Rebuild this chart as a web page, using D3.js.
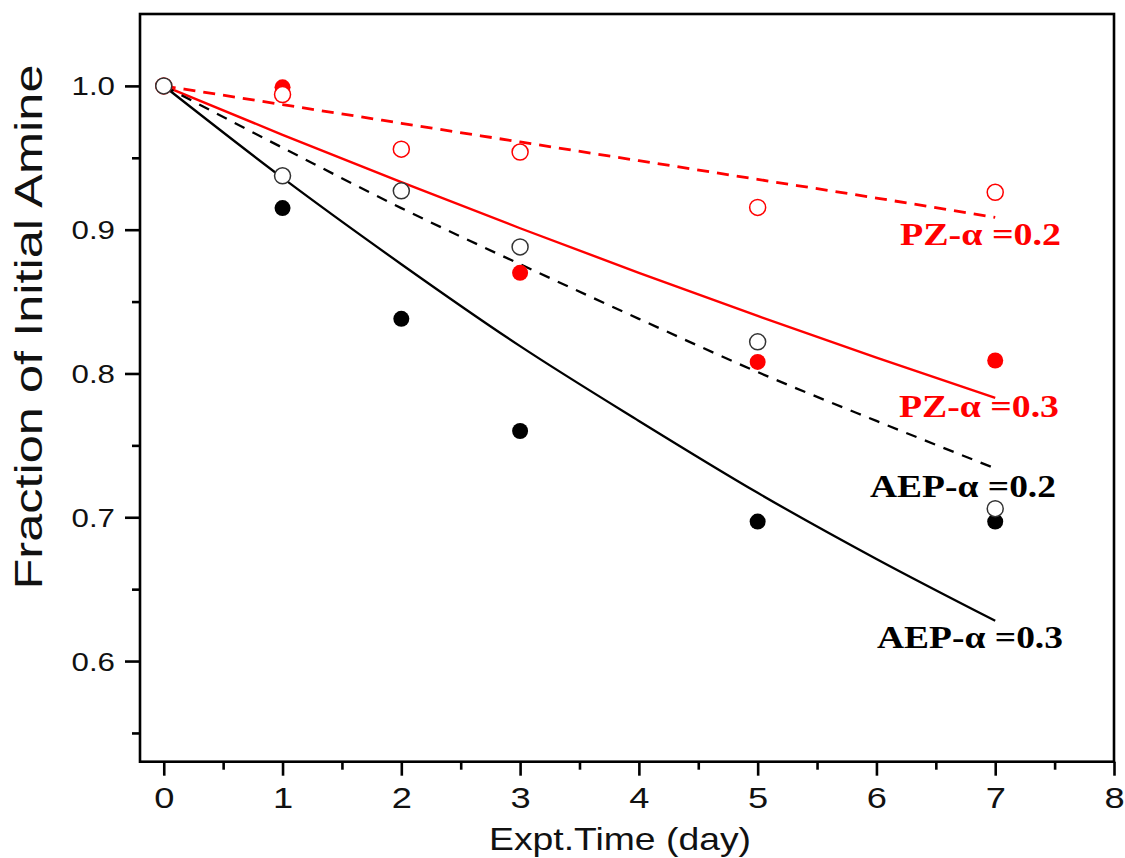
<!DOCTYPE html>
<html>
<head>
<meta charset="utf-8">
<script src="https://cdn.jsdelivr.net/npm/d3@7"></script>
<style>
  html, body { margin: 0; padding: 0; background: #fff; }
  svg { display: block; }
</style>
</head>
<body>
<svg id="chart" width="1125" height="858"></svg>
<script>
// ---- Data ----
const measDaysAll = [0, 1, 2, 3, 5, 7];
const measDaysPZ03 = [0, 1, 3, 5, 7];

const aep03Measured = [1.000, 0.915, 0.838, 0.760, 0.697, 0.697];   // filled black
const aep02Measured = [1.000, 0.9375, 0.927, 0.888, 0.822, 0.706]; // open black
const pz03Measured  = [1.000, 0.999, 0.870, 0.808, 0.809];          // filled red
const pz02Measured  = [1.000, 0.994, 0.956, 0.954, 0.9155, 0.926]; // open red

const fitDays = [0, 1, 2, 3, 4, 5, 6, 7];
const pz02Fit  = [1.000, 0.987, 0.974, 0.961, 0.948, 0.935, 0.922, 0.9085];
const pz03Fit  = [1.000, 0.966, 0.933, 0.901, 0.870, 0.840, 0.811, 0.783];
const aep02Fit = [1.000, 0.957, 0.915, 0.876, 0.838, 0.801, 0.767, 0.734];
const aep03Fit = [1.000, 0.936, 0.876, 0.819, 0.767, 0.717, 0.671, 0.628];

const xTicks = [0, 1, 2, 3, 4, 5, 6, 7, 8];
const yTicks = [0.6, 0.7, 0.8, 0.9, 1.0];
const xMinorTicks = [0.5, 1.5, 2.5, 3.5, 4.5, 5.5, 6.5, 7.5];
const yMinorTicks = [0.55, 0.65, 0.75, 0.85, 0.95];

const labels = [
  { text: "PZ-\u03b1 =0.2",  color: "#ff0000" },
  { text: "PZ-\u03b1 =0.3",  color: "#ff0000" },
  { text: "AEP-\u03b1 =0.2", color: "#000000" },
  { text: "AEP-\u03b1 =0.3", color: "#000000" }
];

// ---- Layout ----
const L = 140, R = 1114, T = 14, B = 761.7;
const STRETCH = 1.25;
const svg = d3.select("#chart");

const x = d3.scaleLinear().domain([-0.2, 8]).range([L, R]);
const y = d3.scaleLinear().domain([0.53, 1.05]).range([B, T]);

function stretch(sel, k) {
  sel.each(function () {
    const len = this.getComputedTextLength();
    d3.select(this).attr("textLength", len * k).attr("lengthAdjust", "spacingAndGlyphs");
  });
}

// ---- Fit lines ----
const line = d3.line().x(d => x(d[0])).y(d => y(d[1])).curve(d3.curveMonotoneX);
const fits = [
  { vals: pz02Fit,  color: "#ff0000", dash: "12,8", w: 2.8 },
  { vals: pz03Fit,  color: "#ff0000", dash: null,   w: 2.4 },
  { vals: aep02Fit, color: "#000000", dash: "11,9", w: 2.3 },
  { vals: aep03Fit, color: "#000000", dash: null,   w: 2.3 }
];
fits.forEach(f => {
  svg.append("path")
    .datum(fitDays.map((d, i) => [d, f.vals[i]]))
    .attr("d", line)
    .attr("fill", "none")
    .attr("stroke", f.color)
    .attr("stroke-width", f.w)
    .attr("stroke-dasharray", f.dash);
});

// ---- Markers ----
const R0 = 8;
function markers(days, vals, fill, stroke, sw) {
  svg.append("g").selectAll("circle")
    .data(days.map((d, i) => [d, vals[i]]))
    .join("circle")
    .attr("cx", d => x(d[0]))
    .attr("cy", d => y(d[1]))
    .attr("r", R0)
    .attr("fill", fill)
    .attr("stroke", stroke)
    .attr("stroke-width", sw);
}
markers(measDaysPZ03, pz03Measured, "#ff0000", "none", 0);
markers(measDaysAll, aep03Measured, "#000000", "none", 0);
markers(measDaysAll, pz02Measured, "#ffffff", "#ff0000", 1.5);
markers(measDaysAll, aep02Measured, "#ffffff", "#333333", 1.5);

// ---- Frame ----
svg.append("rect")
  .attr("x", L).attr("y", T)
  .attr("width", R - L).attr("height", B - T)
  .attr("fill", "none").attr("stroke", "#000").attr("stroke-width", 2.6);

// ---- Axes ----
const xAxis = svg.append("g").attr("transform", `translate(0,${B})`)
  .call(d3.axisBottom(x).tickValues(xTicks).tickSize(14).tickPadding(18).tickFormat(d3.format("d")));
const xMinor = svg.append("g").attr("transform", `translate(0,${B})`)
  .call(d3.axisBottom(x).tickValues(xMinorTicks).tickSize(8).tickFormat(""));
const yAxis = svg.append("g").attr("transform", `translate(${L},0)`)
  .call(d3.axisLeft(y).tickValues(yTicks).tickSize(15).tickPadding(10).tickFormat(d3.format(".1f")));
const yMinor = svg.append("g").attr("transform", `translate(${L},0)`)
  .call(d3.axisLeft(y).tickValues(yMinorTicks).tickSize(8).tickFormat(""));

[xAxis, xMinor, yAxis, yMinor].forEach(g => {
  g.select(".domain").remove();
  g.selectAll(".tick line").attr("stroke", "#000").attr("stroke-width", 2.6);
});

xAxis.selectAll(".tick text")
  .attr("font-family", "'Liberation Sans', Arial, sans-serif")
  .attr("font-size", 29).attr("fill", "#111")
  .attr("dy", 0).attr("y", 808 - B)
  .call(stretch, STRETCH);
yAxis.selectAll(".tick text")
  .attr("font-family", "'Liberation Sans', Arial, sans-serif")
  .attr("font-size", 25).attr("fill", "#111")
  .attr("dy", "0.36em")
  .call(stretch, STRETCH);

// ---- Axis titles ----
svg.append("text")
  .attr("x", 620).attr("y", 850)
  .attr("text-anchor", "middle")
  .attr("font-family", "'Liberation Sans', Arial, sans-serif")
  .attr("font-size", 32).attr("fill", "#111")
  .attr("textLength", 262).attr("lengthAdjust", "spacingAndGlyphs")
  .text("Expt.Time (day)");

svg.append("text")
  .attr("transform", "translate(42,327) rotate(-90)")
  .attr("text-anchor", "middle")
  .attr("font-family", "'Liberation Sans', Arial, sans-serif")
  .attr("font-size", 39).attr("fill", "#111")
  .attr("textLength", 525).attr("lengthAdjust", "spacingAndGlyphs")
  .text("Fraction of Initial Amine");

// ---- Curve labels ----
const labelPos = [
  { x0: 900, base: 245, w: 161 },
  { x0: 899, base: 417, w: 160 },
  { x0: 870, base: 497, w: 186 },
  { x0: 877, base: 648, w: 186 }
];
labels.forEach((lb, i) => {
  svg.append("text")
    .attr("x", labelPos[i].x0).attr("y", labelPos[i].base)
    .attr("font-family", "'Liberation Serif', 'Times New Roman', serif")
    .attr("font-weight", "bold")
    .attr("font-size", 31)
    .attr("fill", lb.color)
    .attr("textLength", labelPos[i].w).attr("lengthAdjust", "spacingAndGlyphs")
    .text(lb.text);
});
</script>
</body>
</html>
